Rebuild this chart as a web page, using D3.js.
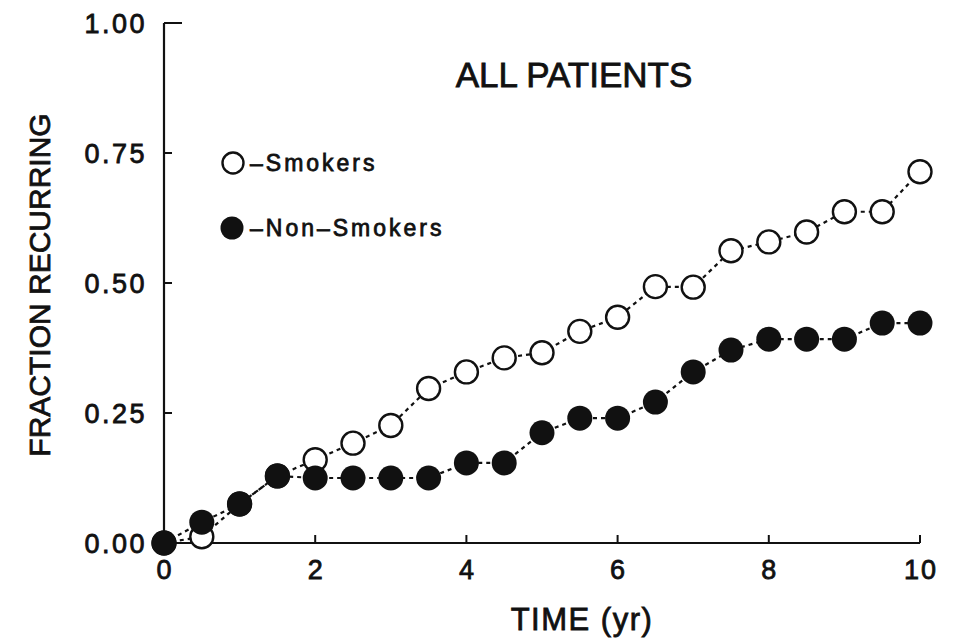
<!DOCTYPE html>
<html><head><meta charset="utf-8">
<script src="https://cdn.jsdelivr.net/npm/d3@7"></script>
<style>body{margin:0;background:#fff}svg{display:block}text{font-family:"Liberation Sans",Arial,sans-serif;fill:#111;stroke:#111;stroke-width:0.8px}</style>
</head><body>
<svg id="c" width="956" height="641"></svg>
<script>
const times = [0,0.5,1,1.5,2,2.5,3,3.5,4,4.5,5,5.5,6,6.5,7,7.5,8,8.5,9,9.5,10];
const smokers = [0,0.012,0.075,0.129,0.16,0.192,0.226,0.297,0.329,0.356,0.366,0.407,0.434,0.493,0.492,0.562,0.579,0.598,0.637,0.637,0.714];
const nonSmokers = [0,0.04,0.075,0.129,0.125,0.125,0.125,0.125,0.154,0.154,0.212,0.240,0.240,0.271,0.329,0.371,0.392,0.392,0.392,0.423,0.423];
const xTicks = [0,2,4,6,8,10];
const yTicks = [0,0.25,0.5,0.75,1.0];
const title = "ALL PATIENTS";
const xLabel = "TIME (yr)";
const yLabel = "FRACTION RECURRING";
const legendLabels = ["\u2013Smokers","\u2013Non\u2013Smokers"];

const svg = d3.select("#c");
const x = d3.scaleLinear().domain([0,10]).range([164,920]);
const y = d3.scaleLinear().domain([0,1]).range([543,23]);
const ink = "#111";

// axes
svg.append("line").attr("x1",x(0)).attr("x2",x(0)).attr("y1",y(1)).attr("y2",y(0)).attr("stroke",ink).attr("stroke-width",2.2);
svg.append("line").attr("x1",x(0)).attr("x2",x(10)).attr("y1",y(0)).attr("y2",y(0)).attr("stroke",ink).attr("stroke-width",2.2);
yTicks.forEach(t=>{
  svg.append("line").attr("x1",x(0)).attr("x2",x(0)+(t===1?18:8)).attr("y1",y(t)).attr("y2",y(t)).attr("stroke",ink).attr("stroke-width",2);
  svg.append("text").attr("x",147).attr("y",y(t)).attr("dy","0.36em").attr("text-anchor","end").attr("font-size",27).attr("letter-spacing",2.5).text(d3.format(".2f")(t));
});
xTicks.forEach(t=>{
  if(t>0) svg.append("line").attr("x1",x(t)).attr("x2",x(t)).attr("y1",y(0)).attr("y2",y(0)-8).attr("stroke",ink).attr("stroke-width",2);
  svg.append("text").attr("x",x(t)+1).attr("y",579).attr("text-anchor","middle").attr("font-size",27).attr("letter-spacing",2).text(t);
});
svg.append("text").attr("x",582).attr("y",630).attr("text-anchor","middle").attr("font-size",31).attr("letter-spacing",1.5).text(xLabel);
svg.append("text").attr("transform","translate(50,285) rotate(-90)").attr("text-anchor","middle").attr("font-size",30).text(yLabel);
svg.append("text").attr("x",574).attr("y",87).attr("text-anchor","middle").attr("font-size",35).text(title);

// lines
const line = d3.line().x((d,i)=>x(times[i])).y(d=>y(d));
[smokers,nonSmokers].forEach(s=>{
  svg.append("path").attr("d",line(s)).attr("fill","none").attr("stroke",ink).attr("stroke-width",2.2).attr("stroke-dasharray","4,4");
});
svg.selectAll(".o").data(smokers).enter().append("circle").attr("cx",(d,i)=>x(times[i])).attr("cy",d=>y(d)).attr("r",11.5).attr("fill","#fff").attr("stroke",ink).attr("stroke-width",2.4);
svg.selectAll(".f").data(nonSmokers).enter().append("circle").attr("cx",(d,i)=>x(times[i])).attr("cy",d=>y(d)).attr("r",12.5).attr("fill",ink);

// legend
svg.append("circle").attr("cx",233).attr("cy",163).attr("r",10.5).attr("fill","#fff").attr("stroke",ink).attr("stroke-width",2.4);
svg.append("circle").attr("cx",232).attr("cy",228).attr("r",11.5).attr("fill",ink);
svg.append("text").attr("x",250).attr("y",163).attr("dy","0.36em").attr("font-size",23).attr("letter-spacing",3).text(legendLabels[0]);
svg.append("text").attr("x",250).attr("y",228).attr("dy","0.36em").attr("font-size",23).attr("letter-spacing",3).text(legendLabels[1]);
</script>
</body></html>
